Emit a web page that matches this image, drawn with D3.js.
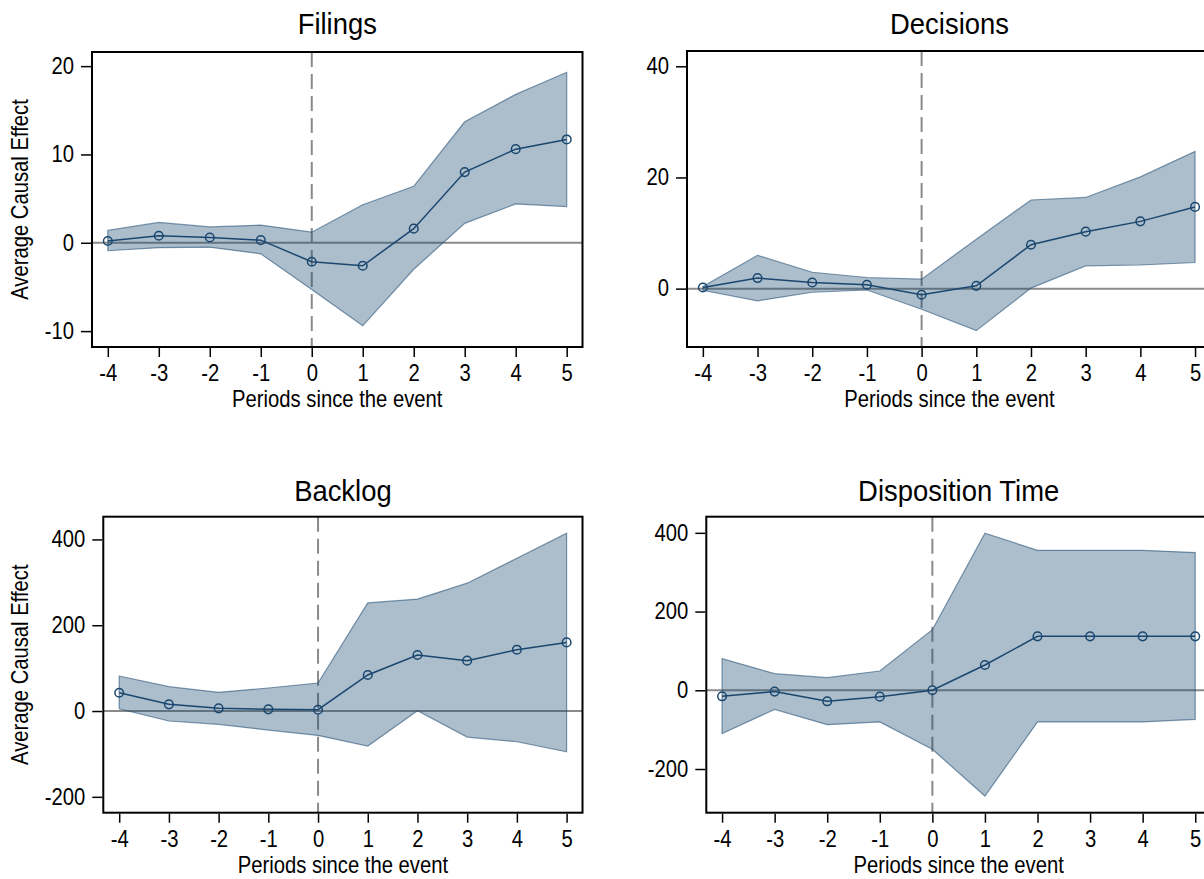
<!DOCTYPE html>
<html>
<head>
<meta charset="utf-8">
<script src="https://cdn.jsdelivr.net/npm/d3@7"></script>
<style>
  html, body { margin: 0; padding: 0; background: #fff; }
  svg { display: block; }
  text { font-family: "Liberation Sans", Arial, sans-serif; fill: #000; }
</style>
</head>
<body>
<div id="chart"></div>
<script>
// event-study periods
const periods = [-4, -3, -2, -1, 0, 1, 2, 3, 4, 5];

// Filings
const filingsEst = [0.2, 0.8, 0.6, 0.3, -2.15, -2.6, 1.6, 8.0, 10.6, 11.7];
const filingsHi  = [1.4, 2.3, 1.8, 2.0, 1.2, 4.3, 6.4, 13.7, 16.8, 19.3];
const filingsLo  = [-0.9, -0.55, -0.5, -1.25, -5.3, -9.4, -3.0, 2.2, 4.4, 4.1];
const filingsTicks = [-10, 0, 10, 20];

// Decisions
const decisionsEst = [0.2, 1.9, 1.1, 0.7, -1.1, 0.5, 7.9, 10.25, 12.1, 14.7];
const decisionsHi  = [0.4, 6.0, 2.95, 2.0, 1.7, 8.9, 15.95, 16.4, 20.1, 24.7];
const decisionsLo  = [-0.3, -2.2, -0.65, -0.25, -3.7, -7.55, 0.1, 4.1, 4.25, 4.7];
const decisionsTicks = [0, 20, 40];

// Backlog
const backlogEst = [42.7, 15.6, 6.2, 3.9, 3.1, 84, 130.7, 117.4, 143, 160];
const backlogHi  = [81.7, 56.8, 43.5, 53.7, 65.3, 252, 261, 298, 356, 414.7];
const backlogLo  = [5.4, -23.3, -31.1, -44.3, -56.8, -81.7, 0.8, -60.7, -71.6, -94.9];
const backlogTicks = [-200, 0, 200, 400];

// Disposition Time
const dispEst = [-15.3, -3.4, -28, -16.2, 0, 64.3, 137, 137, 137, 137];
const dispHi  = [80.4, 42.3, 32, 49, 154, 399, 355.6, 355.6, 355.6, 349.8];
const dispLo  = [-110, -48.4, -87.3, -80.5, -150, -268.7, -80.5, -80.5, -80.5, -73.8];
const dispTicks = [-200, 0, 200, 400];

const W = 1204, H = 879;
const NAVY = '#1a476f';
const LABEL_SIZE = 23, LABEL_SX = 0.88;
const TITLE_SIZE = 29.5, TITLE_SX = 0.93;

const panels = [
  { title: 'Filings', est: filingsEst, lo: filingsLo, hi: filingsHi, ticks: filingsTicks,
    yDomain: [-11.8, 21.6], xDomain: [-4.31, 5.31], box: { l: 92, r: 582.5, t: 52, b: 347 }, titleY: 34, yTitle: true },
  { title: 'Decisions', est: decisionsEst, lo: decisionsLo, hi: decisionsHi, ticks: decisionsTicks,
    yDomain: [-10.5, 42.75], xDomain: [-4.29, 5.31], box: { l: 687, r: 1212, t: 51, b: 347 }, titleY: 34, yTitle: false },
  { title: 'Backlog', est: backlogEst, lo: backlogLo, hi: backlogHi, ticks: backlogTicks,
    yDomain: [-237, 453], xDomain: [-4.32, 5.32], box: { l: 103.3, r: 582.5, t: 516.7, b: 812.7 }, titleY: 501, yTitle: true },
  { title: 'Disposition Time', est: dispEst, lo: dispLo, hi: dispHi, ticks: dispTicks,
    yDomain: [-311, 441], xDomain: [-4.30, 5.30], box: { l: 706.3, r: 1211, t: 516.7, b: 812.7 }, titleY: 501, yTitle: false }
];

const svg = d3.select('#chart').append('svg')
  .attr('width', W)
  .attr('height', H);

// narrow the text horizontally (the original uses a condensed face)
function squeeze(sel, sx) {
  sel.each(function() {
    const t = d3.select(this);
    const x = +t.attr('x') || 0;
    t.attr('x', x / sx).attr('transform', `scale(${sx},1)`);
  });
}

panels.forEach(p => {
  const b = p.box;
  const x = d3.scaleLinear().domain(p.xDomain).range([b.l, b.r]);
  const y = d3.scaleLinear().domain(p.yDomain).range([b.b, b.t]);
  const g = svg.append('g');
  const cx = (b.l + b.r) / 2;

  // zero line and event line (under the band)
  g.append('line')
    .attr('x1', b.l).attr('x2', b.r)
    .attr('y1', y(0)).attr('y2', y(0))
    .attr('stroke', '#8a8a8a').attr('stroke-width', 2);
  g.append('line')
    .attr('x1', x(0)).attr('x2', x(0))
    .attr('y1', b.t).attr('y2', b.b)
    .attr('stroke', '#8a8a8a').attr('stroke-width', 2)
    .attr('stroke-dasharray', '15,7');

  // confidence band
  const rows = periods.map((t, i) => ({ t, est: p.est[i], lo: p.lo[i], hi: p.hi[i] }));
  const area = d3.area()
    .x(d => x(d.t))
    .y0(d => y(d.lo))
    .y1(d => y(d.hi));
  g.append('path')
    .datum(rows)
    .attr('d', area)
    .attr('fill', NAVY).attr('fill-opacity', 0.36)
    .attr('stroke', NAVY).attr('stroke-opacity', 0.55).attr('stroke-width', 1.2);

  // point estimates
  const line = d3.line().x(d => x(d.t)).y(d => y(d.est));
  g.append('path')
    .datum(rows)
    .attr('d', line)
    .attr('fill', 'none')
    .attr('stroke', NAVY).attr('stroke-width', 1.5);
  g.selectAll('circle')
    .data(rows)
    .enter()
    .append('circle')
    .attr('cx', d => x(d.t))
    .attr('cy', d => y(d.est))
    .attr('r', 4.3)
    .attr('fill', 'none')
    .attr('stroke', NAVY).attr('stroke-width', 1.5);

  // frame
  g.append('rect')
    .attr('x', b.l).attr('y', b.t)
    .attr('width', b.r - b.l).attr('height', b.b - b.t)
    .attr('fill', 'none').attr('stroke', '#000').attr('stroke-width', 2);

  // axes
  const yAxis = g.append('g')
    .attr('transform', `translate(${b.l - 1},0)`)
    .call(d3.axisLeft(y).tickValues(p.ticks).tickFormat(d3.format('d')).tickSize(10).tickPadding(7));
  const xAxis = g.append('g')
    .attr('transform', `translate(0,${b.b + 1})`)
    .call(d3.axisBottom(x).tickValues(periods).tickFormat(d3.format('d')).tickSize(9).tickPadding(8));

  [yAxis, xAxis].forEach(ax => {
    ax.select('.domain').remove();
    ax.selectAll('.tick line').attr('stroke', '#000').attr('stroke-width', 1.5);
    ax.selectAll('.tick text')
      .attr('font-family', '"Liberation Sans", Arial, sans-serif')
      .attr('font-size', LABEL_SIZE)
      .attr('fill', '#000');
    squeeze(ax.selectAll('.tick text'), LABEL_SX);
  });
  // d3 uses a unicode minus; keep a plain hyphen like the original
  g.selectAll('.tick text').text(function() { return d3.select(this).text().replace('\u2212', '-'); });

  // titles
  g.append('text')
    .attr('transform', `translate(${cx},${p.titleY}) scale(${TITLE_SX},1)`)
    .attr('text-anchor', 'middle')
    .attr('font-size', TITLE_SIZE)
    .text(p.title);

  g.append('text')
    .attr('transform', `translate(${cx},${b.b + 60}) scale(${LABEL_SX},1)`)
    .attr('text-anchor', 'middle')
    .attr('font-size', LABEL_SIZE)
    .text('Periods since the event');

  if (p.yTitle) {
    g.append('text')
      .attr('transform', `translate(28,${(b.t + b.b) / 2}) rotate(-90) scale(${LABEL_SX},1)`)
      .attr('text-anchor', 'middle')
      .attr('font-size', LABEL_SIZE)
      .text('Average Causal Effect');
  }
});
</script>
</body>
</html>
